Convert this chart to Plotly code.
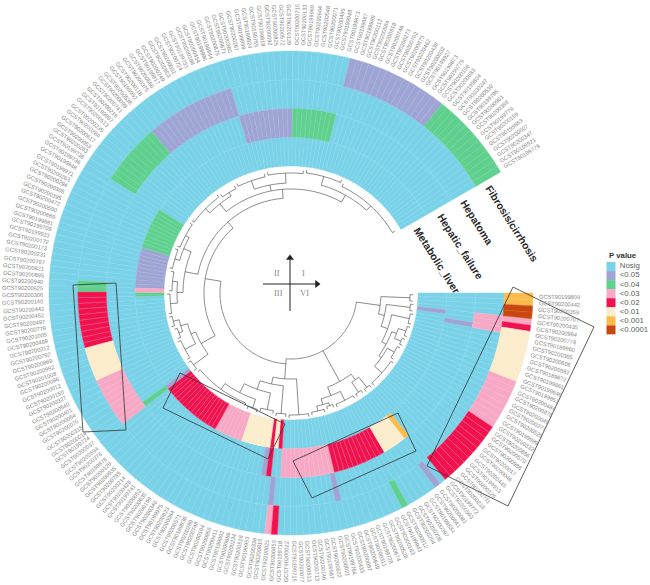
import math
import plotly.graph_objects as go

# Tip identifiers, clockwise from the open sector
gcst_ids = [
    "GCST90199809", "GCST90200442", "GCST90200359", "GCST90200707", "GCST90200435", "GCST90200994",
    "GCST90200778", "GCST90189960", "GCST90200365", "GCST90200606", "GCST90200582", "GCST90189872",
    "GCST90199861", "GCST90199646", "GCST90199851", "GCST90200484", "GCST90200878", "GCST90200049",
    "GCST90200277", "GCST90200525", "GCST90199989", "GCST90200332", "GCST90200856", "GCST90200570",
    "GCST90200988", "GCST90200017", "GCST90200046", "GCST90200445", "GCST90199913", "GCST90200126",
    "GCST90200731", "GCST90200218", "GCST90199772", "GCST90200563", "GCST90200081", "GCST90200641",
    "GCST90199834", "GCST90200397", "GCST90200708", "GCST90200254", "GCST90200912", "GCST90199943",
    "GCST90200163", "GCST90200528", "GCST90200674", "GCST90199728", "GCST90200311", "GCST90200849",
    "GCST90200097", "GCST90200433", "GCST90199764", "GCST90200021", "GCST90200622", "GCST90199987",
    "GCST90200146", "GCST90200713", "GCST90200513", "GCST90200077", "GCST90199715", "GCST90200022",
    "GCST90199718", "GCST90200853", "GCST90200021", "GCST90200815", "GCST90200336", "GCST90199953",
    "GCST90200518", "GCST90200234", "GCST90200686", "GCST90199892", "GCST90200411", "GCST90200955",
    "GCST90200104", "GCST90200748", "GCST90200289", "GCST90199836", "GCST90200571", "GCST90200064",
    "GCST90200823", "GCST90199975", "GCST90200346", "GCST90200199", "GCST90200635", "GCST90200052",
    "GCST90199741", "GCST90200426", "GCST90200214", "GCST90200785", "GCST90200935", "GCST90200129",
    "GCST90199878", "GCST90200378", "GCST90200594", "GCST90200037", "GCST90199724", "GCST90200014",
    "GCST90200315", "GCST90200070", "GCST90200054", "GCST90200401", "GCST90200540", "GCST90200327",
    "GCST90200150", "GCST90200012", "GCST90200086", "GCST90201008", "GCST90200992", "GCST90200869",
    "GCST90200792", "GCST90200212", "GCST90200469", "GCST90201005", "GCST90200779", "GCST90200497",
    "GCST90200452", "GCST90200443", "GCST90200140", "GCST90200306", "GCST90200625", "GCST90200940",
    "GCST90200895", "GCST90200821", "GCST90200797", "GCST90200231", "GCST90200173", "GCST90200172",
    "GCST90199923", "GCST90199709", "GCST90199881", "GCST90200869", "GCST90200590", "GCST90200472",
    "GCST90200395", "GCST90200305", "GCST90200294", "GCST90200263", "GCST90199971", "GCST90199948",
    "GCST90199736", "GCST90199738", "GCST90200283", "GCST90200053", "GCST90200617", "GCST90200284",
    "GCST90200235", "GCST90200513", "GCST90199887", "GCST90200216", "GCST90200741", "GCST90200098",
    "GCST90200536", "GCST90199952", "GCST90200118", "GCST90200375", "GCST90200660", "GCST90199817",
    "GCST90200249", "GCST90200903", "GCST90200031", "GCST90200724", "GCST90199731", "GCST90200188",
    "GCST90200454", "GCST90199996", "GCST90199844", "GCST90200875", "GCST90200671", "GCST90200360",
    "GCST90200267", "GCST90199899", "GCST90199824", "GCST90199755", "GCST90199818", "GCST90200092",
    "GCST90200825", "GCST90200572", "GCST90200129", "GCST90200715", "GCST90200133", "GCST90199969",
    "GCST90200664", "GCST90200548", "GCST90200071", "GCST90200495", "GCST90199948", "GCST90199873",
    "GCST90199867", "GCST90199989", "GCST90200112", "GCST90200584", "GCST90200819", "GCST90200746",
    "GCST90200273", "GCST90200702", "GCST90200873", "GCST90200462", "GCST90200438", "GCST90200032",
    "GCST90199927", "GCST90199873", "GCST90199779", "GCST90200156", "GCST90200683", "GCST90199804",
    "GCST90200247", "GCST90200530", "GCST90199795", "GCST90200961", "GCST90200388", "GCST90199779",
    "GCST90200159", "GCST90199863", "GCST90200607", "GCST90200347", "GCST90199921", "GCST90199779",
]
assert len(gcst_ids) == 216

p_levels = ["Nosig", "<0.05", "<0.04", "<0.03", "<0.02", "<0.01", "<0.001", "<0.0001"]
p_colors = ["#79D2E8", "#9EA5D4", "#5FD08E", "#F7A8C4", "#F0124E", "#FBECCB", "#FBBB4C", "#C9470F"]

track_names = ["Metabolic_liver", "Hepatic_failure", "Hepatoma", "Fibrosis/cirrhosis"]

# Significant runs per track as (level, first tip, last tip); the other tips are Nosig
metabolic_runs = [("<0.05", 4, 4), ("<0.02", 61, 61), ("<0.01", 62, 62), ("<0.02", 63, 63),
                  ("<0.01", 64, 70), ("<0.03", 71, 77), ("<0.02", 78, 92), ("<0.05", 93, 93),
                  ("<0.04", 117, 117), ("<0.03", 118, 118), ("<0.05", 119, 128), ("<0.04", 129, 138)]
failure_runs = [("<0.05", 6, 6), ("<0.001", 33, 33), ("<0.01", 34, 38), ("<0.02", 39, 49),
                ("<0.03", 50, 60), ("<0.02", 63, 63), ("<0.05", 64, 64), ("<0.04", 93, 93),
                ("<0.05", 166, 176), ("<0.04", 177, 185)]
hepatoma_runs = [("<0.03", 4, 6), ("<0.05", 50, 50), ("<0.05", 62, 62), ("<0.03", 93, 101),
                 ("<0.01", 102, 107), ("<0.02", 108, 117), ("<0.04", 118, 119),
                 ("<0.04", 139, 149), ("<0.05", 150, 165)]
fibrosis_runs = [("<0.001", 0, 1), ("<0.0001", 2, 3), ("<0.03", 4, 4), ("<0.02", 5, 5),
                 ("<0.01", 6, 13), ("<0.03", 14, 21), ("<0.02", 22, 32), ("<0.05", 34, 34),
                 ("<0.04", 40, 40), ("<0.02", 61, 61), ("<0.03", 62, 62),
                 ("<0.05", 186, 201), ("<0.04", 202, 215)]
track_runs = [metabolic_runs, failure_runs, hepatoma_runs, fibrosis_runs]

N = len(gcst_ids)
SWEEP = 330.0
STEP = SWEEP / N
RING_IN = 127.0
RING_W = 28.75


def tip_angle(i):
    return 360.0 - (i + 0.5) * STEP


def to_xy(r, deg):
    return r * math.cos(math.radians(deg)), r * math.sin(math.radians(deg))


def lighten(hex_color, amount):
    """Mixes a colour with white for the faint cell borders."""
    channels = [int(hex_color[k:k + 2], 16) for k in (1, 3, 5)]
    return "rgb(%d,%d,%d)" % tuple(round(c + (255 - c) * amount) for c in channels)


# Heat cells: one bar trace per significance level
cells = {lev: ([], [], []) for lev in p_levels}
for t, runs in enumerate(track_runs):
    levels = ["Nosig"] * N
    for lev, a, b in runs:
        for i in range(a, b + 1):
            levels[i] = lev
    for i, lev in enumerate(levels):
        cells[lev][0].append(RING_IN + t * RING_W)
        cells[lev][1].append(tip_angle(i))
        cells[lev][2].append(gcst_ids[i])

fig = go.Figure()
for lev, col in zip(p_levels, p_colors):
    base, theta, ids = cells[lev]
    edge = lighten(col, 0.28 if lev == "<0.02" else 0.12)
    fig.add_trace(go.Barpolar(
        base=base, r=[RING_W] * len(base), theta=theta, width=[STEP] * len(base),
        marker=dict(color=col, line=dict(color=edge, width=0.5)),
        name=lev, hovertext=ids, showlegend=False, subplot="polar",
    ))


# Dendrogram: a node is (radius, children, optional index of the child that carries the stem)
def tips(a, b, r):
    return (r, (a, b))


upper = (90, [tips(0, 2, 119),
              (96, [tips(3, 5, 120),
                    (103, [tips(6, 9, 121),
                           (108, [(113, [tips(10, 13, 121), tips(14, 16, 120)]),
                                  (111, [tips(17, 21, 119), tips(22, 31, 121)])])])])])
middle = (101, [(108, [tips(32, 34, 121), tips(35, 37, 120)]),
                (110, [tips(38, 44, 120),
                       (116, [tips(45, 47, 119), tips(48, 52, 121)])])])
lower = (86, [tips(53, 59, 122),
              (93, [tips(60, 63, 121),
                    (102, [tips(64, 68, 119),
                           (112, [tips(69, 72, 121), tips(73, 91, 119)])])])])
left_low = (103, [tips(92, 95, 121),
                  (108, [tips(96, 102, 120),
                         (115, [tips(103, 106, 119), tips(107, 110, 121)])])])
left_mid = (108, [(114, [tips(111, 117, 121), tips(118, 124, 119)]),
                  (116, [tips(125, 131, 121), tips(132, 140, 120)])])
top = (104, [(114, [tips(141, 152, 120), tips(153, 158, 118)]),
             (110, [tips(159, 168, 119), tips(169, 180, 120)]),
             (112, [tips(181, 192, 121), tips(193, 215, 118)])])
clade_y = (95, [left_mid, top])
clade_x = (87, [left_low, clade_y])
clade_b = (71, [lower, clade_x], 0)
tree = (66, [upper, middle, clade_b], 2)

tree_r, tree_theta = [], []


def add_arc(r, a0, a1):
    steps = max(2, int(abs(a1 - a0)) + 1)
    for k in range(steps + 1):
        tree_r.append(r)
        tree_theta.append(a0 + (a1 - a0) * k / steps)
    tree_r.append(None)
    tree_theta.append(None)


def add_spoke(r0, r1, deg):
    tree_r.extend([r0, r1, None])
    tree_theta.extend([deg, deg, None])


def draw(node, parent_r=None):
    """Adds the arc and stem of a node; returns the node's angle."""
    r, kids = node[0], node[1]
    if isinstance(kids, tuple):
        # Tip comb: only the two end tips stick out from the arc
        a0, a1 = tip_angle(kids[0]), tip_angle(kids[1])
        add_arc(r, a0, a1)
        add_spoke(r, r + 3, a0)
        add_spoke(r, r + 3, a1)
        stem = (a0 + a1) / 2
    else:
        angles = [draw(kid, r) for kid in kids]
        add_arc(r, min(angles), max(angles))
        stem = angles[node[2]] if len(node) > 2 else (angles[0] + angles[-1]) / 2
    if parent_r is not None:
        add_spoke(parent_r, r, stem)
    return stem


draw(tree)
fig.add_trace(go.Scatterpolar(r=tree_r, theta=tree_theta, mode="lines", subplot="polar",
                              line=dict(color="#3c3c3c", width=0.6), hoverinfo="skip",
                              showlegend=False, connectgaps=False))

# Quadrant arrows in the middle of the tree
cross_x = [-28, 26]
cross_y = [35, -18]
fig.add_trace(go.Scatter(x=[cross_x[0], cross_x[1], None, -1, -1], y=[9, 9, None, cross_y[0], cross_y[1]],
                         mode="lines", line=dict(color="#222", width=1), hoverinfo="skip", showlegend=False))
fig.add_trace(go.Scatter(x=[cross_x[1]], y=[9], mode="markers", hoverinfo="skip", showlegend=False,
                         marker=dict(symbol="triangle-right", size=7, color="#222")))
fig.add_trace(go.Scatter(x=[-1], y=[cross_y[0]], mode="markers", hoverinfo="skip", showlegend=False,
                         marker=dict(symbol="triangle-up", size=7, color="#222")))

# P value key
key_x = 320
key_y0 = 26.5
key_step = 9.05
fig.add_trace(go.Scatter(
    x=[key_x] * len(p_levels), y=[key_y0 - i * key_step for i in range(len(p_levels))],
    mode="markers+text", text=[" " + s for s in p_levels], textposition="middle right",
    textfont=dict(family="Liberation Sans", size=7.8, color="#5a5a5a"),
    marker=dict(symbol="square", size=9, color=p_colors, line=dict(width=0)),
    hoverinfo="skip", showlegend=False,
))

annotations = []

# Tip labels run outward on the right half and inward on the left half
LABEL_MID_R = 268.5
for i, label in enumerate(gcst_ids):
    deg = tip_angle(i)
    x, y = to_xy(LABEL_MID_R, deg)
    rot = -deg if (deg <= 90 or deg >= 270) else 180 - deg
    annotations.append(dict(x=x, y=y, xref="x", yref="y", text=label, showarrow=False, textangle=rot,
                            xanchor="center", yanchor="middle", borderpad=0,
                            font=dict(family="Liberation Sans", size=5.7, color="#858585")))

# Track names across the open sector
name_spots = [(145.7, 32.7), (169.3, 47), (186, 71.3), (220.7, 69.7)]
for name, (x, y) in zip(track_names, name_spots):
    annotations.append(dict(x=x, y=y, xref="x", yref="y", text="<b>%s</b>" % name, showarrow=False,
                            textangle=57.5, xanchor="center", yanchor="middle",
                            font=dict(family="Liberation Sans", size=10.5, color="#2a2a2a")))

# Quadrant numerals
for text, x, y in [("I", 12, 20), ("II", -14, 20), ("III", -13, 0), ("VI", 13, 0)]:
    annotations.append(dict(x=x, y=y, xref="x", yref="y", text=text, showarrow=False,
                            font=dict(family="Liberation Serif", size=8.5, color="#8a8a8a")))

annotations.append(dict(x=316, y=38, xref="x", yref="y", text="<b>P value</b>", showarrow=False,
                        xanchor="left", yanchor="middle",
                        font=dict(family="Liberation Sans", size=7.8, color="#333333")))

# Boxes drawn around the main runs
boxes = [
    [(222, 6), (303, -34), (217, -213), (136, -173)],
    [(107, -120), (125, -158), (21, -205), (2, -168)],
    [(-111, -80), (-6, -131), (-23, -166), (-128, -115)],
    [(-218, 8), (-175, 10), (-165, -137), (-208, -139)],
]
shapes = []
for box in boxes:
    path = "M " + " L ".join("%g,%g" % p for p in box) + " Z"
    shapes.append(dict(type="path", path=path, xref="x", yref="y", layer="above",
                       line=dict(color="#333333", width=0.8), fillcolor="rgba(0,0,0,0)"))

W, H = 650, 585
CX, CY = 291, 293
OUTER = 288
fig.update_layout(
    width=W, height=H, margin=dict(l=0, r=0, t=0, b=0), autosize=False,
    paper_bgcolor="white", plot_bgcolor="rgba(0,0,0,0)", showlegend=False,
    bargap=0,
    xaxis=dict(range=[-CX, W - CX], domain=[0, 1], visible=False, fixedrange=True),
    yaxis=dict(range=[CY - H, CY], domain=[0, 1], visible=False, fixedrange=True),
    polar=dict(
        domain=dict(x=[(CX - OUTER) / W, (CX + OUTER) / W], y=[(H - CY - OUTER) / H, (H - CY + OUTER) / H]),
        bgcolor="rgba(0,0,0,0)",
        radialaxis=dict(range=[0, OUTER], visible=False),
        angularaxis=dict(visible=False, direction="counterclockwise", rotation=0),
    ),
    annotations=annotations,
    shapes=shapes,
)

fig.write_html("out.html")
